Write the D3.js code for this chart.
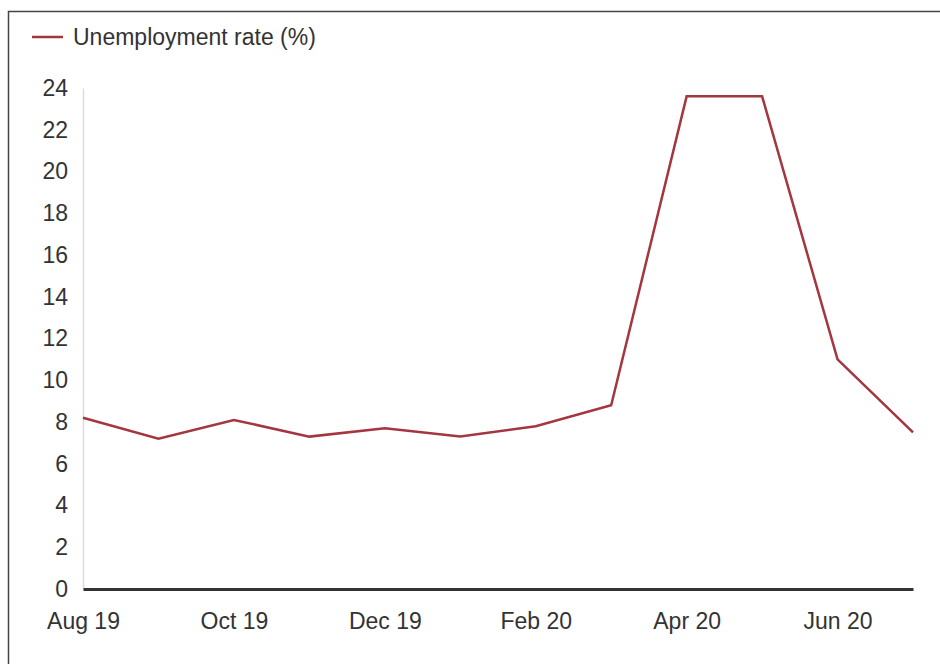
<!DOCTYPE html>
<html>
<head>
<meta charset="utf-8">
<script src="https://cdn.jsdelivr.net/npm/d3@7"></script>
<style>
  html, body { margin: 0; padding: 0; background: #fff; }
  svg { display: block; }
  text { font-family: "Liberation Sans", Arial, sans-serif; fill: #333; }
</style>
</head>
<body>
<svg id="chart" width="940" height="664"></svg>
<script>
// Monthly unemployment rate, Aug 2019 – Jul 2020
const months = ["Aug 19", "Sep 19", "Oct 19", "Nov 19", "Dec 19", "Jan 20",
                "Feb 20", "Mar 20", "Apr 20", "May 20", "Jun 20", "Jul 20"];
const rate = [8.2, 7.2, 8.1, 7.3, 7.7, 7.3, 7.8, 8.8, 23.6, 23.6, 11.0, 7.5];
const monthLabels = ["Aug 19", "Oct 19", "Dec 19", "Feb 20", "Apr 20", "Jun 20"];
const yTicks = [0, 2, 4, 6, 8, 10, 12, 14, 16, 18, 20, 22, 24];
const seriesName = "Unemployment rate (%)";

const svg = d3.select("#chart");
const lineColor = "#a3363f";
const fontSize = "23px";

// frame
svg.append("path")
  .attr("d", "M8.5,664 L8.5,11.5 L940,11.5")
  .attr("fill", "none")
  .attr("stroke", "#444")
  .attr("stroke-width", 1.5);

const x = d3.scalePoint().domain(months).range([83, 913]);
const y = d3.scaleLinear().domain([0, 24]).range([589, 88]);

// y axis
const yAxis = svg.append("g")
  .attr("transform", "translate(83,0)")
  .call(d3.axisLeft(y).tickValues(yTicks).tickSize(0).tickPadding(15));
yAxis.select(".domain").attr("stroke", "#ddd").attr("stroke-width", 1.5);
yAxis.selectAll("text")
  .style("font-size", fontSize)
  .style("font-family", "'Liberation Sans', Arial, sans-serif")
  .attr("fill", "#333");

// x axis
const xAxis = svg.append("g")
  .attr("transform", "translate(0,589)")
  .call(d3.axisBottom(x).tickValues(monthLabels).tickSize(0).tickPadding(24));
xAxis.select(".domain").attr("stroke", "#333").attr("stroke-width", 3);
xAxis.selectAll("text")
  .style("font-size", fontSize)
  .style("font-family", "'Liberation Sans', Arial, sans-serif")
  .attr("fill", "#333");

// series line
const line = d3.line()
  .x((d, i) => x(months[i]))
  .y(d => y(d));

svg.append("path")
  .datum(rate)
  .attr("d", line)
  .attr("fill", "none")
  .attr("stroke", lineColor)
  .attr("stroke-width", 2.5)
  .attr("stroke-linejoin", "miter");

// legend
const legend = svg.append("g").attr("transform", "translate(32,37)");
legend.append("line")
  .attr("x1", 0).attr("x2", 31).attr("y1", 0).attr("y2", 0)
  .attr("stroke", lineColor).attr("stroke-width", 2.5);
legend.append("text")
  .attr("x", 41).attr("y", 0).attr("dy", "0.35em")
  .style("font-size", fontSize)
  .text(seriesName);
</script>
</body>
</html>
